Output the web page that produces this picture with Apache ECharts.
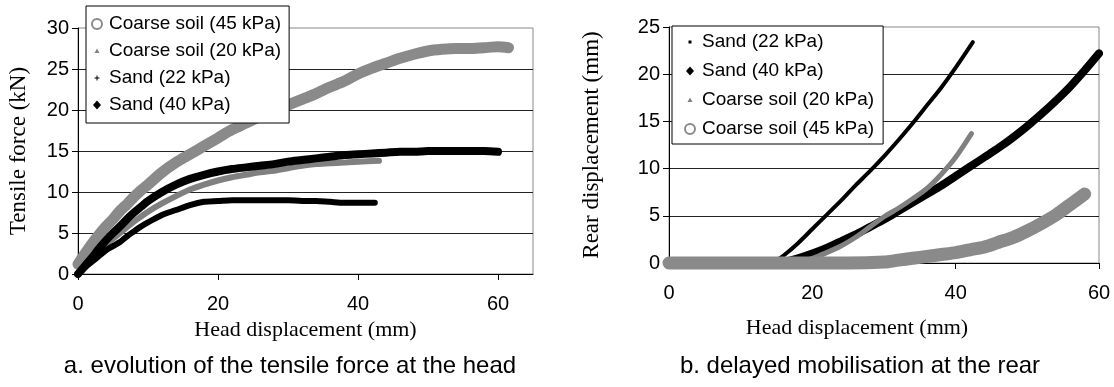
<!DOCTYPE html>
<html>
<head>
<meta charset="utf-8">
<title>Tensile force and rear displacement</title>
<script src="https://cdn.jsdelivr.net/npm/echarts@6/dist/echarts.min.js"></script>
<style>
    html, body { margin: 0; padding: 0; background: #fff; }
    #chart { width: 1114px; height: 387px; }
</style>
</head>
<body>
<div id="chart"></div>
<script>
// 刻度
const xTicks = [0, 20, 40, 60];
const forceTicks = [0, 5, 10, 15, 20, 25, 30];
const rearTicks = [0, 5, 10, 15, 20, 25];

// a. tensile force at the head (kN) / head displacement (mm)
const forceCoarse45 = [[0, 1.2], [1, 2.5], [2, 3.7], [3, 4.8], [4, 5.8], [5, 6.7], [6, 7.7], [7, 8.5], [8, 9.4],
    [9, 10.2], [10, 10.9], [12, 12.4], [14, 13.6], [16, 14.6], [18, 15.6], [20, 16.6], [22, 17.6], [24, 18.4],
    [26, 19.2], [28, 19.9], [30, 20.6], [32, 21.3], [34, 22.0], [36, 22.8], [38, 23.5], [40, 24.4], [42, 25.1],
    [44, 25.7], [46, 26.3], [48, 26.8], [50, 27.2], [52, 27.4], [54, 27.5], [56, 27.5], [58, 27.6], [60, 27.7],
    [61.5, 27.6]];
const forceCoarse20 = [[0, 0], [1, 1.0], [2, 1.9], [3, 2.8], [4, 3.6], [5, 4.3], [6, 5.0], [7, 5.7], [8, 6.4],
    [9, 7.0], [10, 7.6], [12, 8.6], [14, 9.5], [16, 10.3], [18, 10.9], [20, 11.4], [22, 11.8], [24, 12.1],
    [26, 12.4], [28, 12.6], [30, 12.9], [32, 13.2], [34, 13.4], [36, 13.5], [38, 13.6], [40, 13.7], [43, 13.8]];
const forceSand22 = [[0, 0], [1, 0.8], [2, 1.5], [3, 2.2], [4, 2.9], [5, 3.4], [6, 3.9], [7, 4.6], [8, 5.2],
    [9, 5.8], [10, 6.3], [12, 7.2], [14, 7.8], [16, 8.4], [18, 8.8], [20, 8.9], [22, 9.0], [24, 9.0], [26, 9.0],
    [28, 9.0], [30, 9.0], [32, 8.9], [34, 8.9], [36, 8.8], [38, 8.7], [40, 8.7], [42.4, 8.7]];
const forceSand40 = [[0, 0], [1, 1.0], [2, 2.0], [3, 3.1], [4, 4.1], [5, 5.0], [6, 5.8], [7, 6.7], [8, 7.5],
    [9, 8.2], [10, 8.9], [12, 10.0], [14, 10.9], [16, 11.6], [18, 12.1], [20, 12.5], [22, 12.8], [24, 13.0],
    [26, 13.2], [28, 13.4], [30, 13.7], [32, 13.9], [34, 14.1], [36, 14.3], [38, 14.5], [40, 14.6], [42, 14.7],
    [44, 14.8], [46, 14.9], [48, 14.9], [50, 15.0], [52, 15.0], [54, 15.0], [56, 15.0], [58, 15.0], [60, 14.9]];

// b. rear displacement (mm) / head displacement (mm)
const rearSand22 = [[0, 0], [5, 0], [10, 0], [14, 0], [15, 0.3], [16, 0.8], [18, 2.1], [20, 3.6], [22, 5.1],
    [24, 6.6], [26, 8.2], [28, 9.7], [30, 11.3], [32, 13.0], [34, 14.8], [36, 16.7], [38, 18.6], [40, 20.7],
    [42.4, 23.4]];
const rearSand40 = [[0, 0], [5, 0], [10, 0], [15, 0], [16, 0.1], [18, 0.5], [20, 1.0], [22, 1.6], [24, 2.3],
    [26, 3.0], [28, 3.8], [30, 4.6], [32, 5.5], [34, 6.4], [36, 7.3], [38, 8.2], [40, 9.2], [42, 10.2],
    [44, 11.2], [46, 12.2], [48, 13.3], [50, 14.5], [52, 15.8], [54, 17.2], [56, 18.7], [58, 20.4], [60, 22.2]];
const rearCoarse20 = [[0, 0], [5, 0], [10, 0], [15, 0], [18, 0.1], [20, 0.5], [22, 1.1], [24, 1.8], [26, 2.7],
    [28, 3.8], [30, 4.9], [32, 5.8], [34, 6.8], [36, 7.9], [38, 9.4], [40, 11.2], [42.2, 13.7]];
const rearCoarse45 = [[0, 0], [5, 0], [10, 0], [15, 0], [20, 0], [25, 0], [30, 0.1], [32, 0.3], [34, 0.5],
    [36, 0.7], [38, 0.9], [40, 1.1], [42, 1.4], [44, 1.7], [46, 2.2], [48, 2.7], [50, 3.4], [52, 4.2],
    [54, 5.1], [56, 6.2], [58, 7.3]];

const SAND_22 = 'Sand (22 kPa)';
const SAND_40 = 'Sand (40 kPa)';
const COARSE_20 = 'Coarse soil (20 kPa)';
const COARSE_45 = 'Coarse soil (45 kPa)';

const GRAY = '#808080';
const SANS = "'Liberation Sans', Arial, sans-serif";
const SERIF = "'Liberation Serif', 'Times New Roman', serif";

// 图例图标 (外框只用来控制大小)
const ICON_TRIANGLE = 'path://M0,0M20,20M10,5L15,14L5,14Z';
const ICON_PLUS = 'path://M0,0M20,20M9,5H11V9H15V11H11V15H9V11H5V9H9Z';
const ICON_DIAMOND = 'path://M0,0M20,20M10,1L18,10L10,19L2,10Z';
const ICON_DOT = 'path://M0,0M20,20M7,7H13V13H7Z';

// 曲线
function curve (name, data, axis, color, width) {
    return {
        name: name,
        type: 'line',
        xAxisIndex: axis,
        yAxisIndex: axis,
        data: data,
        color: color,
        itemStyle: { color: color },
        smooth: 0.3,
        symbol: 'none',
        clip: false,
        lineStyle: { color: color, width: width, cap: 'round', join: 'round' },
        emphasis: { disabled: true }
    };
}

function xAxis (grid, max, nameGap, namePad) {
    return {
        type: 'value',
        gridIndex: grid,
        min: 0,
        max: max,
        interval: 20,
        name: 'Head displacement (mm)',
        nameLocation: 'middle',
        nameGap: nameGap,
        nameTextStyle: { fontFamily: SERIF, fontSize: 22, color: '#000', padding: namePad },
        axisLine: { lineStyle: { color: '#000', width: 1 } },
        axisTick: { inside: false, length: 6, customValues: xTicks, lineStyle: { color: '#000' } },
        axisLabel: { customValues: xTicks, margin: 20, fontFamily: SANS, fontSize: 20, color: '#000' },
        splitLine: { show: false }
    };
}

function yAxis (grid, max, name, nameGap) {
    return {
        type: 'value',
        gridIndex: grid,
        min: 0,
        max: max,
        interval: 5,
        name: name,
        nameLocation: 'middle',
        nameGap: nameGap,
        nameTextStyle: { fontFamily: SERIF, fontSize: 23, color: '#000' },
        axisLine: { show: true, lineStyle: { color: '#000', width: 1 } },
        axisTick: { show: true, length: 6, lineStyle: { color: '#000' } },
        axisLabel: { margin: 9, fontFamily: SANS, fontSize: 20, color: '#000' },
        splitLine: { show: true, showMaxLine: false, lineStyle: { color: '#222', width: 1 } }
    };
}

function legend (left, top, padding, gap, items) {
    return {
        orient: 'vertical',
        left: left,
        top: top,
        padding: padding,
        itemGap: gap,
        itemWidth: 14,
        itemHeight: 10,
        selectedMode: false,
        backgroundColor: '#fff',
        borderColor: '#000',
        borderWidth: 1,
        borderRadius: 0,
        textStyle: { fontFamily: SANS, fontSize: 19, lineHeight: 20, color: '#000' },
        data: items
    };
}

const chart = echarts.init(document.getElementById('chart'), null, { renderer: 'canvas' });

chart.setOption({
    backgroundColor: '#fff',
    animation: false,
    title: [
        {
            text: 'a. evolution of the tensile force at the head',
            left: 290, top: 354, textAlign: 'center', padding: 0,
            textStyle: { fontFamily: SANS, fontSize: 24, fontWeight: 'normal', color: '#000' }
        },
        {
            text: 'b. delayed mobilisation at the rear',
            left: 860, top: 354, textAlign: 'center', padding: 0,
            textStyle: { fontFamily: SANS, fontSize: 24, fontWeight: 'normal', color: '#000' }
        }
    ],
    grid: [
        { left: 78, top: 28, width: 455, height: 246, show: true, borderColor: '#888', borderWidth: 1 },
        { left: 669, top: 27, width: 430, height: 236, show: true, borderColor: '#888', borderWidth: 1 }
    ],
    xAxis: [
        xAxis(0, 65, 40, [0, 0, 0, 0]),
        xAxis(1, 60, 54, [0, 54, 0, 0])
    ],
    yAxis: [
        yAxis(0, 30, 'Tensile force (kN)', 48),
        yAxis(1, 25, 'Rear displacement (mm)', 66)
    ],
    legend: [
        legend(86, 6, [8, 8, 8, 5], 7, [
            { name: COARSE_45, icon: 'emptyCircle' },
            { name: COARSE_20, icon: ICON_TRIANGLE },
            { name: SAND_22, icon: ICON_PLUS },
            { name: SAND_40, icon: ICON_DIAMOND }
        ]),
        legend(672, 26, [6, 9, 5, 12], 9, [
            { name: SAND_22, icon: ICON_DOT },
            { name: SAND_40, icon: ICON_DIAMOND },
            { name: COARSE_20, icon: ICON_TRIANGLE },
            { name: COARSE_45, icon: 'emptyCircle' }
        ])
    ],
    series: [
        curve(COARSE_45, forceCoarse45, 0, '#8a8a8a', 11),
        curve(COARSE_20, forceCoarse20, 0, GRAY, 6),
        curve(SAND_22, forceSand22, 0, '#000', 6),
        curve(SAND_40, forceSand40, 0, '#000', 8),

        curve(SAND_22, rearSand22, 1, '#000', 4),
        curve(SAND_40, rearSand40, 1, '#000', 8),
        curve(COARSE_20, rearCoarse20, 1, GRAY, 5),
        curve(COARSE_45, rearCoarse45, 1, '#8a8a8a', 13)
    ]
});
</script>
</body>
</html>
